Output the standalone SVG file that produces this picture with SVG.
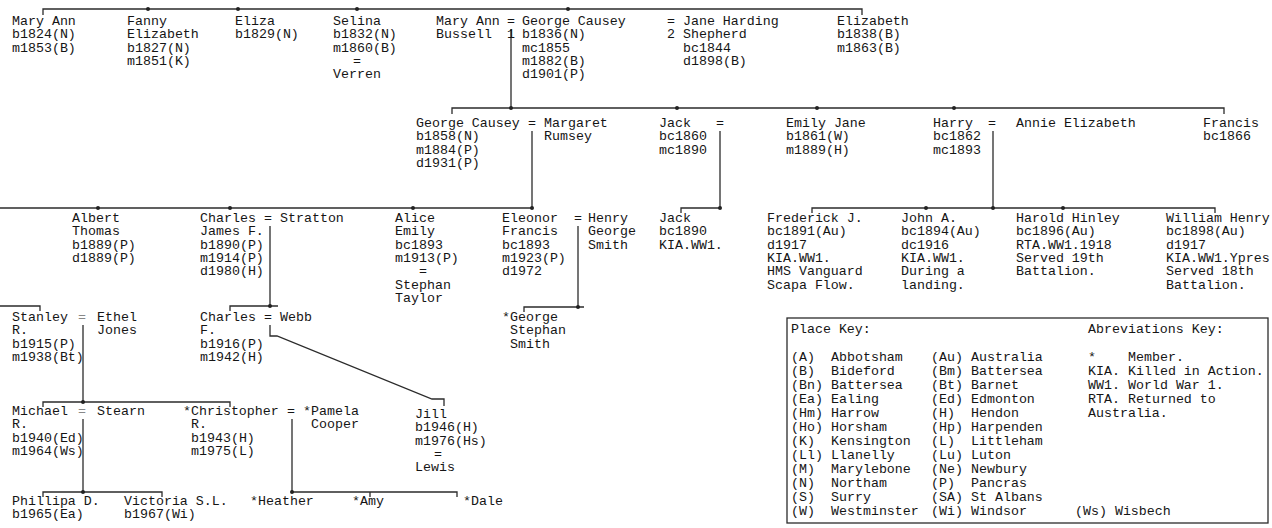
<svg xmlns="http://www.w3.org/2000/svg" width="1272" height="528" viewBox="0 0 1272 528">
<style>
text{font-family:"Liberation Mono","DejaVu Sans Mono",monospace;font-size:13.3px;fill:#151515}
.ln{stroke:#2b2b2b;stroke-width:1.3;fill:none}
.dot{fill:#222}
.faint{fill:#888}
</style>
<rect width="1272" height="528" fill="#fff"/>
<g id="connectors">
<path class="ln" d="M43,15V9H862V15"/>
<circle class="dot" cx="148" cy="9" r="2"/><circle class="dot" cx="238" cy="9" r="2"/><circle class="dot" cx="357" cy="9" r="2"/><circle class="dot" cx="568" cy="9" r="2"/>
<path class="ln" d="M511,29V108"/>
<path class="ln" d="M452,114V108H1224V114"/>
<circle class="dot" cx="511" cy="108" r="2"/><circle class="dot" cx="677" cy="108" r="2"/><circle class="dot" cx="817" cy="108" r="2"/><circle class="dot" cx="954" cy="108" r="2"/>
<path class="ln" d="M532,131V208"/><path class="ln" d="M720,131V208"/><path class="ln" d="M993,131V208"/>
<path class="ln" d="M0,208H532"/>
<circle class="dot" cx="98" cy="208" r="2"/><circle class="dot" cx="230" cy="208" r="2"/><circle class="dot" cx="413" cy="208" r="2"/><circle class="dot" cx="532" cy="208" r="2"/>
<path class="ln" d="M681,213V208H720"/><circle class="dot" cx="720" cy="208" r="2"/>
<path class="ln" d="M812,213V208H1215V213"/>
<circle class="dot" cx="926" cy="208" r="2"/><circle class="dot" cx="993" cy="208" r="2"/><circle class="dot" cx="1063" cy="208" r="2"/>
<path class="ln" d="M270,226V306"/><path class="ln" d="M578,226V307"/>
<path class="ln" d="M0,306H40V311"/>
<path class="ln" d="M230,311V306H278"/><circle class="dot" cx="270" cy="306" r="2"/>
<path class="ln" d="M524,312V307H584"/><circle class="dot" cx="578" cy="307" r="2"/>
<path class="ln" d="M83,325V402"/>
<path class="ln" d="M270,325V336H277L432,399H444V406"/>
<path class="ln" d="M43,407V402H230V407"/><circle class="dot" cx="83" cy="402" r="2"/>
<path class="ln" d="M83,419V492"/><path class="ln" d="M292,419V492"/>
<path class="ln" d="M43,497V492H162V497"/><circle class="dot" cx="83" cy="492" r="2"/>
<path class="ln" d="M292,492H457V497M370,492V497"/><circle class="dot" cx="292" cy="492" r="2"/>
</g>
<g id="n-maryann1"><text x="12" y="25">Mary Ann<tspan x="12" dy="13.3">b1824(N)</tspan><tspan x="12" dy="13.3">m1853(B)</tspan></text></g>
<g id="n-fanny"><text x="127" y="25">Fanny<tspan x="127" dy="13.3">Elizabeth</tspan><tspan x="127" dy="13.3">b1827(N)</tspan><tspan x="127" dy="13.3">m1851(K)</tspan></text></g>
<g id="n-eliza"><text x="235" y="25">Eliza<tspan x="235" dy="13.3">b1829(N)</tspan></text></g>
<g id="n-selina"><text x="333" y="25">Selina<tspan x="333" dy="13.3">b1832(N)</tspan><tspan x="333" dy="13.3">m1860(B)</tspan><tspan x="353" dy="13.3">=</tspan><tspan x="333" dy="13.3">Verren</tspan></text></g>
<g id="n-maryann-bussell"><text x="436" y="25">Mary Ann<tspan x="436" dy="13.3">Bussell</tspan></text><text x="507" y="25">=</text><text x="507" y="38.3">1</text></g>
<g id="n-george1"><text x="522" y="25">George Causey<tspan x="522" dy="13.3">b1836(N)</tspan><tspan x="522" dy="13.3">mc1855</tspan><tspan x="522" dy="13.3">m1882(B)</tspan><tspan x="522" dy="13.3">d1901(P)</tspan></text></g>
<g id="n-jane"><text x="667" y="25">= Jane Harding<tspan x="667" dy="13.3">2 Shepherd</tspan><tspan x="683" dy="13.3">bc1844</tspan><tspan x="683" dy="13.3">d1898(B)</tspan></text></g>
<g id="n-elizabeth"><text x="837" y="25">Elizabeth<tspan x="837" dy="13.3">b1838(B)</tspan><tspan x="837" dy="13.3">m1863(B)</tspan></text></g>
<g id="n-george2"><text x="416" y="127">George Causey<tspan x="416" dy="13.3">b1858(N)</tspan><tspan x="416" dy="13.3">m1884(P)</tspan><tspan x="416" dy="13.3">d1931(P)</tspan></text><text x="528" y="127">=</text></g>
<g id="n-margaret"><text x="544" y="127">Margaret<tspan x="544" dy="13.3">Rumsey</tspan></text></g>
<g id="n-jack1"><text x="659" y="127">Jack<tspan x="659" dy="13.3">bc1860</tspan><tspan x="659" dy="13.3">mc1890</tspan></text><text x="716" y="127">=</text></g>
<g id="n-emilyjane"><text x="786" y="127">Emily Jane<tspan x="786" dy="13.3">b1861(W)</tspan><tspan x="786" dy="13.3">m1889(H)</tspan></text></g>
<g id="n-harry"><text x="933" y="127">Harry<tspan x="933" dy="13.3">bc1862</tspan><tspan x="933" dy="13.3">mc1893</tspan></text><text x="988" y="127">=</text></g>
<g id="n-annie"><text x="1016" y="127">Annie Elizabeth</text></g>
<g id="n-francis"><text x="1203" y="127">Francis<tspan x="1203" dy="13.3">bc1866</tspan></text></g>
<g id="n-albert"><text x="72" y="222">Albert<tspan x="72" dy="13.3">Thomas</tspan><tspan x="72" dy="13.3">b1889(P)</tspan><tspan x="72" dy="13.3">d1889(P)</tspan></text></g>
<g id="n-charles1"><text x="200" y="222">Charles<tspan x="200" dy="13.3">James F.</tspan><tspan x="200" dy="13.3">b1890(P)</tspan><tspan x="200" dy="13.3">m1914(P)</tspan><tspan x="200" dy="13.3">d1980(H)</tspan></text><text x="264" y="222">=</text></g>
<g id="n-stratton"><text x="280" y="222">Stratton</text></g>
<g id="n-alice"><text x="395" y="222">Alice<tspan x="395" dy="13.3">Emily</tspan><tspan x="395" dy="13.3">bc1893</tspan><tspan x="395" dy="13.3">m1913(P)</tspan><tspan x="419" dy="13.3">=</tspan><tspan x="395" dy="13.3">Stephan</tspan><tspan x="395" dy="13.3">Taylor</tspan></text></g>
<g id="n-eleonor"><text x="502" y="222">Eleonor<tspan x="502" dy="13.3">Francis</tspan><tspan x="502" dy="13.3">bc1893</tspan><tspan x="502" dy="13.3">m1923(P)</tspan><tspan x="502" dy="13.3">d1972</tspan></text><text x="574" y="222">=</text></g>
<g id="n-henry"><text x="588" y="222">Henry<tspan x="588" dy="13.3">George</tspan><tspan x="588" dy="13.3">Smith</tspan></text></g>
<g id="n-jack2"><text x="659" y="222">Jack<tspan x="659" dy="13.3">bc1890</tspan><tspan x="659" dy="13.3">KIA.WW1.</tspan></text></g>
<g id="n-frederick"><text x="767" y="222">Frederick J.<tspan x="767" dy="13.3">bc1891(Au)</tspan><tspan x="767" dy="13.3">d1917</tspan><tspan x="767" dy="13.3">KIA.WW1.</tspan><tspan x="767" dy="13.3">HMS Vanguard</tspan><tspan x="767" dy="13.3">Scapa Flow.</tspan></text></g>
<g id="n-john"><text x="901" y="222">John A.<tspan x="901" dy="13.3">bc1894(Au)</tspan><tspan x="901" dy="13.3">dc1916</tspan><tspan x="901" dy="13.3">KIA.WW1.</tspan><tspan x="901" dy="13.3">During a</tspan><tspan x="901" dy="13.3">landing.</tspan></text></g>
<g id="n-harold"><text x="1016" y="222">Harold Hinley<tspan x="1016" dy="13.3">bc1896(Au)</tspan><tspan x="1016" dy="13.3">RTA.WW1.1918</tspan><tspan x="1016" dy="13.3">Served 19th</tspan><tspan x="1016" dy="13.3">Battalion.</tspan></text></g>
<g id="n-william"><text x="1166" y="222">William Henry<tspan x="1166" dy="13.3">bc1898(Au)</tspan><tspan x="1166" dy="13.3">d1917</tspan><tspan x="1166" dy="13.3">KIA.WW1.Ypres</tspan><tspan x="1166" dy="13.3">Served 18th</tspan><tspan x="1166" dy="13.3">Battalion.</tspan></text></g>
<g id="n-stanley"><text x="12" y="321">Stanley<tspan x="12" dy="13.3">R.</tspan><tspan x="12" dy="13.3">b1915(P)</tspan><tspan x="12" dy="13.3">m1938(Bt)</tspan></text><text class="faint" x="78" y="321">=</text></g>
<g id="n-ethel"><text x="97" y="321">Ethel<tspan x="97" dy="13.3">Jones</tspan></text></g>
<g id="n-charles2"><text x="200" y="321">Charles<tspan x="200" dy="13.3">F.</tspan><tspan x="200" dy="13.3">b1916(P)</tspan><tspan x="200" dy="13.3">m1942(H)</tspan></text><text x="264" y="321">=</text></g>
<g id="n-webb"><text x="280" y="321">Webb</text></g>
<g id="n-george3"><text x="502" y="321">*George<tspan x="510" dy="13.3">Stephan</tspan><tspan x="510" dy="13.3">Smith</tspan></text></g>
<g id="n-michael"><text x="12" y="415">Michael<tspan x="12" dy="13.3">R.</tspan><tspan x="12" dy="13.3">b1940(Ed)</tspan><tspan x="12" dy="13.3">m1964(Ws)</tspan></text><text class="faint" x="78" y="415">=</text></g>
<g id="n-stearn"><text x="97" y="415">Stearn</text></g>
<g id="n-christopher"><text x="183" y="415">*Christopher<tspan x="191" dy="13.3">R.</tspan><tspan x="191" dy="13.3">b1943(H)</tspan><tspan x="191" dy="13.3">m1975(L)</tspan></text><text x="287" y="415">=</text></g>
<g id="n-pamela"><text x="303" y="415">*Pamela<tspan x="311" dy="13.3">Cooper</tspan></text></g>
<g id="n-jill"><text x="415" y="418">Jill<tspan x="415" dy="13.3">b1946(H)</tspan><tspan x="415" dy="13.3">m1976(Hs)</tspan><tspan x="434" dy="13.3">=</tspan><tspan x="415" dy="13.3">Lewis</tspan></text></g>
<g id="n-phillipa"><text x="12" y="505">Phillipa D.<tspan x="12" dy="13.3">b1965(Ea)</tspan></text></g>
<g id="n-victoria"><text x="124" y="505">Victoria S.L.<tspan x="124" dy="13.3">b1967(Wi)</tspan></text></g>
<g id="n-heather"><text x="250" y="505">*Heather</text></g>
<g id="n-amy"><text x="352" y="505">*Amy</text></g>
<g id="n-dale"><text x="463" y="505">*Dale</text></g>
<g id="key">
<rect x="787" y="318" width="481" height="205" fill="none" stroke="#2b2b2b" stroke-width="1.3"/>
<text x="791" y="333">Place Key:</text>
<text x="1088" y="333">Abreviations Key:</text>
<text x="791" y="361">(A)<tspan x="791" dy="14">(B)</tspan><tspan x="791" dy="14">(Bn)</tspan><tspan x="791" dy="14">(Ea)</tspan><tspan x="791" dy="14">(Hm)</tspan><tspan x="791" dy="14">(Ho)</tspan><tspan x="791" dy="14">(K)</tspan><tspan x="791" dy="14">(Ll)</tspan><tspan x="791" dy="14">(M)</tspan><tspan x="791" dy="14">(N)</tspan><tspan x="791" dy="14">(S)</tspan><tspan x="791" dy="14">(W)</tspan></text>
<text x="831" y="361">Abbotsham<tspan x="831" dy="14">Bideford</tspan><tspan x="831" dy="14">Battersea</tspan><tspan x="831" dy="14">Ealing</tspan><tspan x="831" dy="14">Harrow</tspan><tspan x="831" dy="14">Horsham</tspan><tspan x="831" dy="14">Kensington</tspan><tspan x="831" dy="14">Llanelly</tspan><tspan x="831" dy="14">Marylebone</tspan><tspan x="831" dy="14">Northam</tspan><tspan x="831" dy="14">Surry</tspan><tspan x="831" dy="14">Westminster</tspan></text>
<text x="931" y="361">(Au)<tspan x="931" dy="14">(Bm)</tspan><tspan x="931" dy="14">(Bt)</tspan><tspan x="931" dy="14">(Ed)</tspan><tspan x="931" dy="14">(H)</tspan><tspan x="931" dy="14">(Hp)</tspan><tspan x="931" dy="14">(L)</tspan><tspan x="931" dy="14">(Lu)</tspan><tspan x="931" dy="14">(Ne)</tspan><tspan x="931" dy="14">(P)</tspan><tspan x="931" dy="14">(SA)</tspan><tspan x="931" dy="14">(Wi)</tspan></text>
<text x="971" y="361">Australia<tspan x="971" dy="14">Battersea</tspan><tspan x="971" dy="14">Barnet</tspan><tspan x="971" dy="14">Edmonton</tspan><tspan x="971" dy="14">Hendon</tspan><tspan x="971" dy="14">Harpenden</tspan><tspan x="971" dy="14">Littleham</tspan><tspan x="971" dy="14">Luton</tspan><tspan x="971" dy="14">Newbury</tspan><tspan x="971" dy="14">Pancras</tspan><tspan x="971" dy="14">St Albans</tspan><tspan x="971" dy="14">Windsor</tspan></text>
<text x="1088" y="361">*<tspan x="1088" dy="14">KIA.</tspan><tspan x="1088" dy="14">WW1.</tspan><tspan x="1088" dy="14">RTA.</tspan><tspan x="1088" dy="14">Australia.</tspan></text>
<text x="1128" y="361">Member.<tspan x="1128" dy="14">Killed in Action.</tspan><tspan x="1128" dy="14">World War 1.</tspan><tspan x="1128" dy="14">Returned to</tspan></text>
<text x="1075" y="515">(Ws) Wisbech</text>
</g>
</svg>
